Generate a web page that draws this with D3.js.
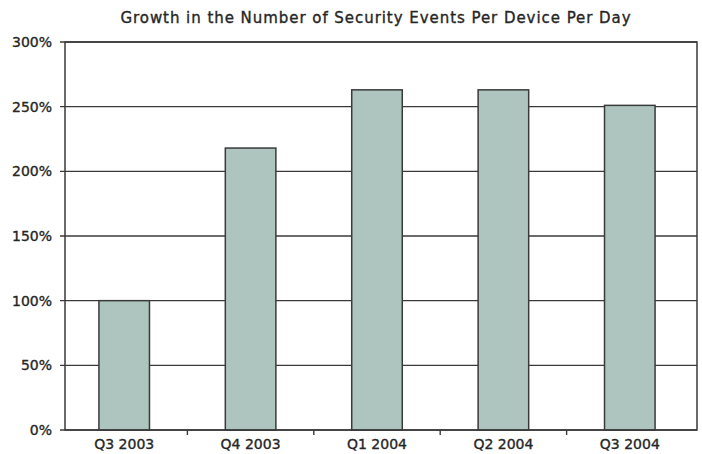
<!DOCTYPE html>
<html lang="en">
  <head>
    <meta charset="utf-8">
    <title>Growth in the Number of Security Events Per Device Per Day</title>
    <script src="https://d3js.org/d3.v7.js"></script>
    <style>
      body { margin: 0; background: #fff; }
      text { font-family: "DejaVu Sans", sans-serif; fill: #262626; stroke: #262626; stroke-width: 0.35px; }
    </style>
  </head>
  <body>
  <script>

  // data
  var quarters = ["Q3 2003", "Q4 2003", "Q1 2004", "Q2 2004", "Q3 2004"];
  var growth = [100, 218, 263, 263, 251];
  var yTicks = [0, 50, 100, 150, 200, 250, 300];

  var w = 702, h = 454;
  var plotLeft = 65, plotRight = 697, plotTop = 42, plotBottom = 430;

  var svg = d3.select("body").append("svg")
      .attr("width", w)
      .attr("height", h);

  var xScale = d3.scaleBand()
      .domain(quarters)
      .range([61, 693])
      .paddingInner(0.6)
      .paddingOuter(0.3);

  var yScale = d3.scaleLinear()
      .domain([0, 300])
      .range([plotBottom, plotTop]);

  // title
  svg.append("text")
     .attr("x", 376)
     .attr("y", 23)
     .attr("text-anchor", "middle")
     .style("font-size", "15px")
     .style("letter-spacing", "0.95px")
     .text("Growth in the Number of Security Events Per Device Per Day");

  // gridlines + y ticks
  svg.selectAll(".grid")
     .data(yTicks)
     .join("line")
     .attr("class", "grid")
     .attr("x1", plotLeft - 5)
     .attr("x2", plotRight)
     .attr("y1", d => yScale(d))
     .attr("y2", d => yScale(d))
     .attr("stroke", "#3a3a3a")
     .attr("stroke-width", 1.4);

  svg.selectAll(".ylab")
     .data(yTicks)
     .join("text")
     .attr("class", "ylab")
     .attr("x", 52)
     .attr("y", d => yScale(d) + 5)
     .attr("text-anchor", "end")
     .style("font-size", "14px")
     .text(d => d + "%");

  // bars
  svg.selectAll(".bar")
     .data(growth)
     .join("rect")
     .attr("class", "bar")
     .attr("x", (d, i) => xScale(quarters[i]))
     .attr("y", d => yScale(d))
     .attr("width", xScale.bandwidth())
     .attr("height", d => yScale(0) - yScale(d))
     .attr("fill", "#adc5be")
     .attr("stroke", "#3a3a3a")
     .attr("stroke-width", 1.5);

  // frame
  svg.append("rect")
     .attr("x", plotLeft)
     .attr("y", plotTop)
     .attr("width", plotRight - plotLeft)
     .attr("height", plotBottom - plotTop)
     .attr("fill", "none")
     .attr("stroke", "#3a3a3a")
     .attr("stroke-width", 1.5);

  // x ticks between categories
  var step = xScale.step();
  svg.selectAll(".xtick")
     .data(quarters.slice(1))
     .join("line")
     .attr("class", "xtick")
     .attr("x1", d => xScale(d) + xScale.bandwidth() / 2 - step / 2)
     .attr("x2", d => xScale(d) + xScale.bandwidth() / 2 - step / 2)
     .attr("y1", plotBottom)
     .attr("y2", plotBottom + 5)
     .attr("stroke", "#3a3a3a")
     .attr("stroke-width", 1.4);

  svg.selectAll(".xlab")
     .data(quarters)
     .join("text")
     .attr("class", "xlab")
     .attr("x", d => xScale(d) + xScale.bandwidth() / 2)
     .attr("y", 449)
     .attr("text-anchor", "middle")
     .style("font-size", "14px")
     .text(d => d);

  </script>
  </body>
</html>
